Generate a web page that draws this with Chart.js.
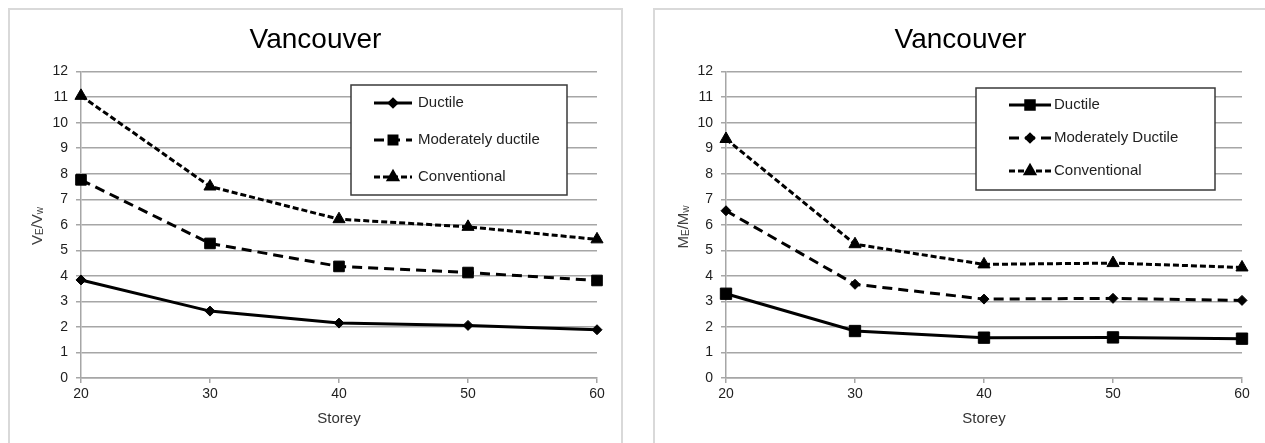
<!DOCTYPE html>
<html>
<head>
<meta charset="utf-8">
<script src="https://cdn.jsdelivr.net/npm/chart.js@4.4.1/dist/chart.umd.min.js"></script>
<style>
  html, body { margin: 0; padding: 0; background: #fff; overflow: hidden; }
  .panel { position: absolute; top: 8px; width: 611px; height: 440px; border: 2px solid #d9d9d9; background: #fff; }
  #leftPanel { left: 8px; }
  #rightPanel { left: 653px; }
  canvas { display: block; }
</style>
</head>
<body>
<div class="panel" id="leftPanel"><canvas id="shearChart" width="611" height="433"></canvas></div>
<div class="panel" id="rightPanel"><canvas id="momentChart" width="611" height="433"></canvas></div>
<script>
// storeys on the x axis, shared by both charts
const storeys = [20, 30, 40, 50, 60];

// left chart: VE/Vw
const shearDuctile = [3.84, 2.62, 2.15, 2.06, 1.89];
const shearModDuctile = [7.76, 5.27, 4.37, 4.13, 3.82];
const shearConventional = [11.05, 7.5, 6.22, 5.92, 5.43];

// right chart: ME/Mw
const momentDuctile = [3.3, 1.84, 1.58, 1.59, 1.54];
const momentModDuctile = [6.55, 3.67, 3.09, 3.12, 3.04];
const momentConventional = [9.36, 5.24, 4.45, 4.5, 4.33];

const yMin = 0;
const yMax = 12;

Chart.defaults.font.family = "'Liberation Sans', Arial, sans-serif";
Chart.defaults.color = "#1e1e1e";

const gridColor = "#a6a6a6";

// legend drawn as a box inside the plot, like the spreadsheet original
const boxLegend = {
  id: "boxLegend",
  afterDraw(chart, args, opts) {
    const ctx = chart.ctx;
    ctx.save();
    ctx.fillStyle = "#fff";
    ctx.fillRect(opts.x, opts.y, opts.w, opts.h);
    ctx.strokeStyle = "#3a3a3a";
    ctx.lineWidth = 1.5;
    ctx.strokeRect(opts.x, opts.y, opts.w, opts.h);

    chart.data.datasets.forEach((ds, i) => {
        const cy = opts.rowY[i];
        const [x0, x1] = opts.sampleX;
        ctx.strokeStyle = "#000";
        ctx.lineWidth = ds.borderWidth;
        ctx.setLineDash(ds.borderDash || []);
        ctx.beginPath();
        ctx.moveTo(x0, cy);
        ctx.lineTo(x1, cy);
        ctx.stroke();
        ctx.setLineDash([]);
        ctx.fillStyle = "#000";
        Chart.helpers.drawPoint(ctx, {
            pointStyle: ds.pointStyle,
            radius: ds.pointRadius * 0.75,
            borderWidth: 1
        }, (x0 + x1) / 2, cy);
        ctx.fillStyle = "#222";
        ctx.font = "15px 'Liberation Sans', Arial, sans-serif";
        ctx.textBaseline = "middle";
        ctx.textAlign = "left";
        ctx.fillText(ds.label, opts.textX, cy);
    });
    ctx.restore();
  }
};

// rotated axis title with subscripts (VE/Vw, ME/Mw)
const subTitle = {
  id: "subTitle",
  afterDraw(chart, args, opts) {
    const ctx = chart.ctx;
    const mainFont = "15px 'Liberation Sans', Arial, sans-serif";
    const subFont = "10px 'Liberation Sans', Arial, sans-serif";
    ctx.save();
    ctx.translate(opts.x, opts.y);
    ctx.rotate(-Math.PI / 2);
    let total = 0;
    opts.parts.forEach(p => {
        ctx.font = p[1] ? subFont : mainFont;
        total += ctx.measureText(p[0]).width;
    });
    let cx = -total / 2;
    ctx.fillStyle = "#404040";
    ctx.textBaseline = "alphabetic";
    ctx.textAlign = "left";
    opts.parts.forEach(p => {
        ctx.font = p[1] ? subFont : mainFont;
        ctx.fillText(p[0], cx, p[1] ? 6 : 5);
        cx += ctx.measureText(p[0]).width;
    });
    ctx.restore();
  }
};

function makeDataset(label, values, style) {
    return {
        label,
        data: values,
        borderColor: "#000",
        backgroundColor: "#000",
        borderWidth: 3,
        borderDash: style.dash,
        pointStyle: style.point,
        pointRadius: style.radius,
        pointHoverRadius: style.radius,
        pointBorderWidth: 1,
        pointBackgroundColor: "#000",
        pointBorderColor: "#000",
        tension: 0,
        fill: false,
        clip: false
    };
}

function renderChart(canvasId, datasets, legendOpts, titleOpts) {

    const ctx = document.getElementById(canvasId);

    return new Chart(ctx, {

        type: "line",

        data: { labels: storeys, datasets },

        options: {
            responsive: false,
            animation: false,
            layout: { padding: { left: 24, right: 24, top: 0, bottom: 0 } },
            plugins: {
                legend: { display: false },
                tooltip: { enabled: false },
                title: {
                    display: true,
                    text: "Vancouver",
                    color: "#000",
                    font: { size: 28, weight: "normal" },
                    padding: { top: 13, bottom: 15 }
                },
                boxLegend: legendOpts,
                subTitle: titleOpts
            },
            scales: {
                x: {
                    grid: {
                        drawOnChartArea: false,
                        drawTicks: true,
                        tickLength: 5,
                        color: gridColor,
                        lineWidth: 1.5
                    },
                    border: { color: gridColor, width: 1.5 },
                    ticks: { font: { size: 14 }, padding: 3, maxRotation: 0 },
                    title: {
                        display: true,
                        text: "Storey",
                        color: "#333",
                        font: { size: 15 },
                        padding: { top: 0, bottom: 15 }
                    },
                    afterFit: scale => { scale.height = 65; }
                },
                y: {
                    min: yMin,
                    max: yMax,
                    grid: {
                        color: gridColor,
                        lineWidth: 1.5,
                        tickLength: 5
                    },
                    border: { color: gridColor, width: 1.5 },
                    ticks: { stepSize: 1, font: { size: 14 }, padding: 8 },
                    afterFit: scale => { scale.width = 47; }
                }
            }
        },

        plugins: [boxLegend, subTitle]

    });

}

renderChart("shearChart", [
    makeDataset("Ductile", shearDuctile, { dash: [], point: "rectRot", radius: 5 }),
    makeDataset("Moderately ductile", shearModDuctile, { dash: [10, 6], point: "rect", radius: 7.5 }),
    makeDataset("Conventional", shearConventional, { dash: [6, 3], point: "triangle", radius: 7 })
], {
    x: 341, y: 75, w: 216, h: 110,
    rowY: [93, 130, 167],
    sampleX: [364, 402],
    textX: 408
}, {
    x: 27, y: 216,
    parts: [["V", false], ["E", true], ["/V", false], ["w", true]]
});

renderChart("momentChart", [
    makeDataset("Ductile", momentDuctile, { dash: [], point: "rect", radius: 8 }),
    makeDataset("Moderately Ductile", momentModDuctile, { dash: [10, 6], point: "rectRot", radius: 5 }),
    makeDataset("Conventional", momentConventional, { dash: [6, 3], point: "triangle", radius: 7 })
], {
    x: 321, y: 78, w: 239, h: 102,
    rowY: [95, 128, 161],
    sampleX: [354, 396],
    textX: 399
}, {
    x: 28, y: 217,
    parts: [["M", false], ["E", true], ["/M", false], ["w", true]]
});
</script>
</body>
</html>
